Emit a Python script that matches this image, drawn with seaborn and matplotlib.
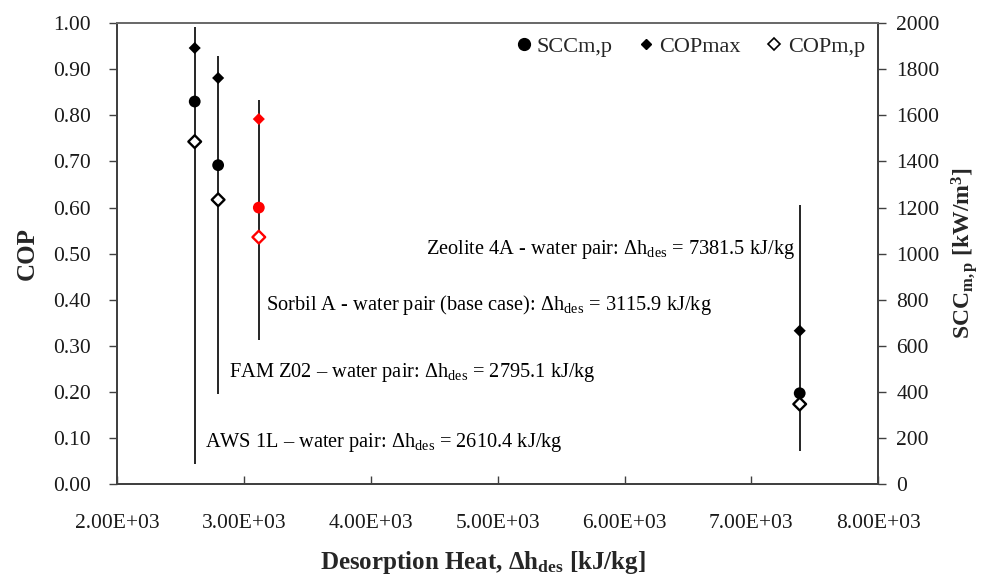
import matplotlib
matplotlib.use("Agg")
import matplotlib.pyplot as plt
from matplotlib.lines import Line2D
from matplotlib.ticker import FuncFormatter, MultipleLocator
import seaborn as sns
import pandas as pd

# Working pairs and their desorption heat [kJ/kg]
materials = ["AWS 1L", "FAM Z02", "Sorbil A", "Zeolite 4A"]
dh_des = [2610.4, 2795.1, 3115.9, 7381.5]

# Performance indicators
cop_max = [0.946, 0.881, 0.792, 0.333]
cop_mp = [0.743, 0.617, 0.536, 0.174]
scc_mp = [1660, 1384, 1200, 395]          # kW/m3
scc_low = [88, 390, 626, 146]             # kW/m3, range of SCC
scc_high = [1983, 1858, 1668, 1212]

point_colors = ["black", "black", "red", "black"]

pair_labels = [
    "AWS 1L \u2013 water pair: $\\mathrm{\\Delta h_{des}}$ = 2610.4 kJ/kg",
    "FAM Z02 \u2013 water pair: $\\mathrm{\\Delta h_{des}}$ = 2795.1 kJ/kg",
    "Sorbil A - water pair (base case): $\\mathrm{\\Delta h_{des}}$ = 3115.9 kJ/kg",
    "Zeolite 4A - water pair: $\\mathrm{\\Delta h_{des}}$ = 7381.5 kJ/kg",
]
label_x = [2694, 2877, 3170, 4432]
label_y = [0.080, 0.233, 0.377, 0.500]

x_ticks = [2000, 3000, 4000, 5000, 6000, 7000, 8000]

sns.set_style("ticks")
plt.rcParams["font.family"] = ["Liberation Serif", "DejaVu Serif"]
plt.rcParams["mathtext.fontset"] = "custom"
plt.rcParams["mathtext.rm"] = "Liberation Serif"
plt.rcParams["mathtext.it"] = "Liberation Serif:italic"
plt.rcParams["mathtext.bf"] = "Liberation Serif:bold"

df = pd.DataFrame({
    "material": materials, "dh": dh_des, "cop_max": cop_max,
    "cop_mp": cop_mp, "scc": scc_mp, "lo": scc_low, "hi": scc_high,
})
palette = dict(zip(materials, point_colors))

fig = plt.figure(figsize=(9.9, 5.82), dpi=100)
ax = fig.add_axes([0.1185, 0.1678, 0.7685, 0.7925])
ax2 = ax.twinx()

# SCC range lines and SCC points on the right axis
ax2.vlines(df["dh"], df["lo"], df["hi"], color="black", lw=1.2, zorder=1)
sns.scatterplot(data=df, x="dh", y="scc", hue="material", palette=palette,
                marker="o", s=72, edgecolor="none", legend=False, ax=ax2, zorder=3)

# COP points on the left axis
sns.scatterplot(data=df, x="dh", y="cop_max", hue="material", palette=palette,
                marker="D", s=38, edgecolor="none", legend=False, ax=ax, zorder=3)
ax.scatter(df["dh"], df["cop_mp"], marker="D", s=42, facecolors="white",
           edgecolors=point_colors, linewidths=1.7, zorder=3)

# draw left-axis content above the twin axes
ax.set_zorder(ax2.get_zorder() + 1)
ax.patch.set_visible(False)

ax.set_xlim(2000, 8000)
ax.set_ylim(0, 1.0)
ax2.set_ylim(0, 2000)
ax.set_xticks(x_ticks)
ax.yaxis.set_major_locator(MultipleLocator(0.1))
ax2.yaxis.set_major_locator(MultipleLocator(200))
ax.xaxis.set_major_formatter(FuncFormatter(lambda v, p: f"{v:.2E}"))
ax.yaxis.set_major_formatter(FuncFormatter(lambda v, p: f"{v:.2f}"))

tick_color = "#1a1a1a"
ax.tick_params(axis="x", direction="in", length=6, width=1.0, pad=21,
               labelsize=15.5, colors="#404040", labelcolor=tick_color)
ax.tick_params(axis="y", direction="out", length=6, width=1.0, pad=13,
               labelsize=15.5, colors="#404040", labelcolor=tick_color)
ax2.tick_params(axis="y", direction="out", length=6, width=1.0, pad=7,
                labelsize=15.5, colors="#404040", labelcolor=tick_color)

for a in (ax, ax2):
    for sp in a.spines.values():
        sp.set_visible(True)
        sp.set_color("#404040")
        sp.set_linewidth(1.3)
ax.spines["top"].set_color("#6e6e6e")

ax.set_xlabel("Desorption Heat, $\\mathbf{\\Delta h_{des}}$ [kJ/kg]",
              fontsize=18, fontweight="bold", labelpad=12)
ax.xaxis.label.set_x(0.481)
ax.set_ylabel("COP", fontsize=18, fontweight="bold", labelpad=10)
ax2.set_ylabel("$\\mathbf{SCC_{m,p}}$ [kW/m$^\\mathbf{3}$]", fontsize=17,
               fontweight="bold", labelpad=7)

for txt, tx, ty in zip(pair_labels, label_x, label_y):
    ax.text(tx, ty, txt, fontsize=14.7, va="baseline", ha="left", color="black")

handles = [
    Line2D([], [], ls="none", marker="o", color="black", markersize=8.5),
    Line2D([], [], ls="none", marker="D", color="black", markersize=5.5),
    Line2D([], [], ls="none", marker="D", markerfacecolor="white",
           markeredgecolor="black", markeredgewidth=1.2, markersize=6),
]
ax.legend(handles, ["SCCm,p", "COPmax", "COPm,p"], loc="upper right",
          ncol=3, frameon=False, fontsize=16, handlelength=0.6,
          handletextpad=0.3, columnspacing=1.2, borderaxespad=0.2,
          bbox_to_anchor=(1.0, 1.0))

fig.savefig("out.png", dpi=100)
